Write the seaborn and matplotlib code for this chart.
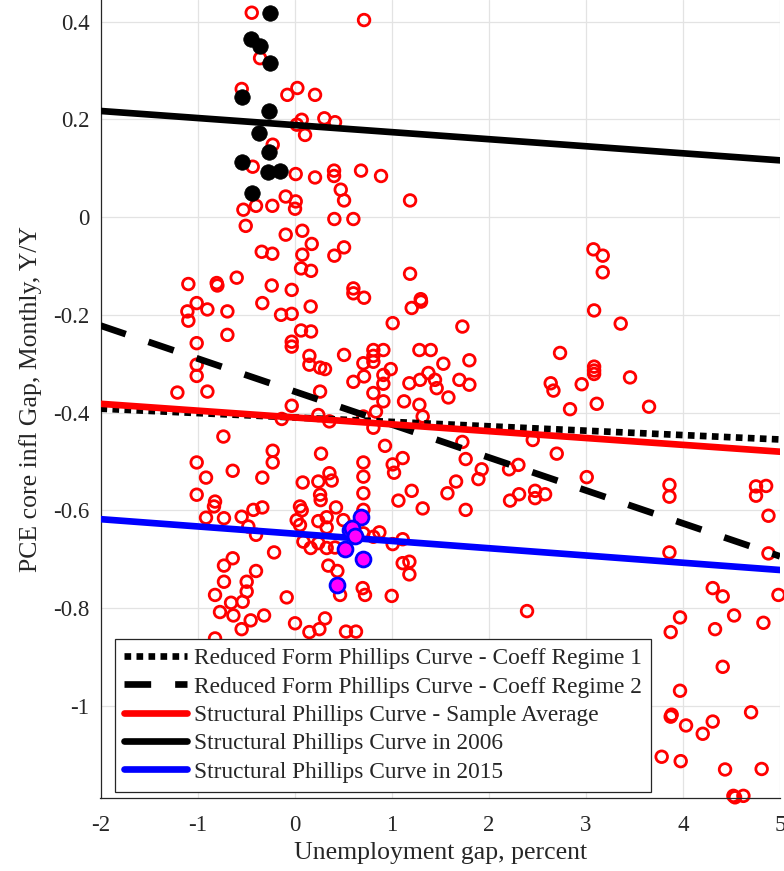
import numpy as np
import pandas as pd
import seaborn as sns
import matplotlib.pyplot as plt

# monthly observations (unemployment gap, core PCE inflation gap)
red_x = [-0.442, 0.715, -0.356, -0.545, -0.075, 0.028, 0.210, 0.073, 0.022, 0.306,
         0.416, 0.107, -0.226, -0.432, 0.011, 0.210, 0.406, 0.406, 0.684, 0.890,
         0.475, 0.509, -0.092, 0.011, 0.004, -0.528, -0.398, -0.230, 1.189, -0.504,
         0.409, 0.605, -0.092, 0.079, 0.176, 0.509, 0.409, -0.339, -0.230, 0.079,
         0.066, 0.169, 1.189, -1.095, -0.803, -0.796, -0.597, -0.236, -0.030, 0.605,
         0.605, 0.715, 1.299,
         -1.009, -1.105, -1.095, -0.899, -0.693, -0.333, -0.140, -0.030, 0.165, 1.206,
         1.302, 1.010, 0.066, 0.169, -0.693, -1.009, -0.030, -0.030, 0.152, 0.152,
         0.262, 0.313, 0.509, 0.811, 0.811, 0.914, 0.708, 0.811, 1.285, 1.402,
         -1.009, -1.009, -1.208, -0.899, 0.605, 0.715, 0.914, 0.914, 0.990, 1.182,
         1.292, 1.378, 1.446, 1.463, 0.262, 0.811, 0.914, 1.127, 1.285, 1.319,
         -0.030, -0.133, 0.244, 0.358, 0.708, 0.838, 0.811, -0.734, -0.226, -0.226,
         0.272, 0.708, 0.931, 1.010, 1.113, 1.024, -1.009, -0.913, -0.638, -0.333,
         0.083, 0.244, 0.358, 0.382, 0.708, 0.708, 0.262, 0.268, -1.009, -0.820,
         -0.831, -0.425, -0.333, 0.055, 0.073, 0.426, 0.708, 1.206, 1.069, 1.319,
         -0.913, -0.728, -0.546, 0.021, 0.055, 0.244, 0.330, 0.330, 0.502, -0.477,
         -0.398, 0.090, 0.165, 0.244, 0.330, 0.416, 0.708, 0.873, 0.811, 1.010,
         1.113, -0.212, -0.638, -0.728, 0.347, 0.440, 1.113, 1.182, 1.182, -0.398,
         -0.728, -0.494, -0.494, -0.820, -0.082, 0.701, 0.725, 1.000, 0.468,
         -0.655, -0.535, -0.769, -0.631, -0.546, -0.453, -0.315, 0.004, 0.152, 0.255,
         0.313, 0.529, 0.632, -0.820,
         3.078, 3.174, 3.174, 3.085, 3.359, 1.728, 1.532, 1.800, 1.697, 1.800,
         1.584, 2.734, 2.638, 2.666, 2.957, 3.085, 3.085, 3.085, 3.455, 3.112,
         2.837, 3.651, 1.728, 1.762, 2.453, 1.927, 1.893, 1.663, 1.574, 2.209,
         2.305, 2.219, 2.312, 2.477, 2.477, 2.580, 2.700, 3.009, 1.762, 3.861,
         3.861, 3.861, 4.753, 4.857, 4.753, 4.881, 4.881, 4.307, 4.410, 4.984,
         3.970, 3.874, 4.331, 4.527, 4.829, 4.410, 3.970, 3.884, 3.874, 4.032,
         4.204, 4.307, 4.702, 3.781, 3.977, 4.434, 4.811, 4.520, 4.623, 4.537,
         2.394]
red_y = [0.418, 0.403, 0.325, 0.262, 0.250, 0.264, 0.250, 0.199, 0.189, 0.202,
         0.194, 0.168, 0.148, 0.103, 0.088, 0.081, 0.095, 0.084, 0.095, 0.084,
         0.056, 0.034, 0.042, 0.032, 0.017, 0.015, 0.023, 0.023, 0.034, -0.018,
         -0.004, -0.004, -0.036, -0.028, -0.055, -0.062, -0.079, -0.071, -0.075, -0.077,
         -0.105, -0.110, -0.116, -0.137, -0.135, -0.140, -0.124, -0.140, -0.149, -0.146,
         -0.156, -0.165, -0.168,
         -0.176, -0.193, -0.212, -0.189, -0.193, -0.176, -0.200, -0.198, -0.183, -0.186,
         -0.173, -0.217, -0.232, -0.234, -0.241, -0.258, -0.255, -0.265, -0.284, -0.302,
         -0.308, -0.311, -0.282, -0.272, -0.284, -0.272, -0.299, -0.296, -0.272, -0.272,
         -0.302, -0.325, -0.359, -0.357, -0.337, -0.326, -0.323, -0.341, -0.311, -0.340,
         -0.333, -0.319, -0.333, -0.350, -0.357, -0.360, -0.377, -0.377, -0.384, -0.408,
         -0.386, -0.413, -0.405, -0.418, -0.408, -0.398, -0.431, -0.449, -0.478, -0.502,
         -0.484, -0.502, -0.468, -0.506, -0.493, -0.523, -0.502, -0.533, -0.519, -0.533,
         -0.543, -0.541, -0.524, -0.539, -0.531, -0.565, -0.568, -0.579, -0.568, -0.582,
         -0.592, -0.599, -0.594, -0.592, -0.600, -0.594, -0.599, -0.560, -0.580, -0.596,
         -0.615, -0.616, -0.613, -0.620, -0.630, -0.622, -0.614, -0.635, -0.620, -0.633,
         -0.650, -0.664, -0.677, -0.667, -0.677, -0.676, -0.647, -0.645, -0.654, -0.669,
         -0.659, -0.686, -0.698, -0.713, -0.713, -0.724, -0.708, -0.705, -0.731, -0.724,
         -0.746, -0.746, -0.766, -0.773, -0.778, -0.759, -0.773, -0.775, -0.773,
         -0.789, -0.787, -0.808, -0.815, -0.843, -0.825, -0.815, -0.831, -0.849, -0.843,
         -0.821, -0.848, -0.848, -0.862,
         -0.066, -0.079, -0.113, -0.191, -0.218, -0.224, -0.300, -0.293, -0.333, -0.343,
         -0.369, -0.278, -0.340, -0.355, -0.342, -0.306, -0.314, -0.321, -0.328, -0.382,
         -0.393, -0.388, -0.460, -0.495, -0.456, -0.516, -0.536, -0.541, -0.565, -0.516,
         -0.507, -0.580, -0.567, -0.560, -0.575, -0.567, -0.484, -0.532, -0.599, -0.548,
         -0.572, -0.686, -0.551, -0.550, -0.570, -0.611, -0.688, -0.759, -0.776, -0.773,
         -0.819, -0.849, -0.843, -0.815, -0.830, -0.920, -0.969, -1.018, -1.022, -1.040,
         -1.057, -1.032, -1.013, -1.104, -1.113, -1.130, -1.129, -1.184, -1.184, -1.187,
         -0.806]

# 2006 observations (black) and 2015 observations (magenta)
black_x = [-0.253, -0.449, -0.356, -0.253, -0.539, -0.264, -0.363, -0.264, -0.539, -0.271, -0.150, -0.442]
black_y = [0.418, 0.364, 0.349, 0.316, 0.245, 0.216, 0.172, 0.133, 0.112, 0.092, 0.095, 0.049]
mag_x = [0.684, 0.571, 0.595, 0.622, 0.519, 0.708, 0.440]
mag_y = [-0.614, -0.641, -0.636, -0.652, -0.679, -0.699, -0.752]

# fitted curves, evaluated at the ends of the x range
line_x = [-2, 5]
rf_regime1 = [-0.392, -0.455]
rf_regime2 = [-0.222, -0.694]
sp_average = [-0.382, -0.480]
sp_2006 = [0.217, 0.116]
sp_2015 = [-0.618, -0.722]

sns.set_style('white')
plt.rcParams['font.family'] = ['Liberation Serif', 'DejaVu Serif']
plt.rcParams['axes.unicode_minus'] = False

fig = plt.figure(figsize=(7.84, 8.71), dpi=100)
ax = fig.add_axes([100.5 / 784, 72.7 / 871, 679.5 / 784, 798.3 / 871])

sns.scatterplot(x=red_x, y=red_y, ax=ax, marker='o', s=70, facecolors='none',
                edgecolor='#ff0000', linewidth=2.0, zorder=2, clip_on=False)

lw = 4.8
sns.lineplot(x=line_x, y=rf_regime1, ax=ax, color='black', lw=lw, zorder=3,
             label='Reduced Form Phillips Curve - Coeff Regime 1')
sns.lineplot(x=line_x, y=rf_regime2, ax=ax, color='black', lw=lw, zorder=3,
             label='Reduced Form Phillips Curve - Coeff Regime 2')
sns.lineplot(x=line_x, y=sp_average, ax=ax, color='#ff0000', lw=lw, zorder=3,
             label='Structural Phillips Curve - Sample Average')
sns.lineplot(x=line_x, y=sp_2006, ax=ax, color='black', lw=lw, zorder=3,
             label='Structural Phillips Curve in 2006')
sns.lineplot(x=line_x, y=sp_2015, ax=ax, color='#0000ff', lw=lw, zorder=3,
             label='Structural Phillips Curve in 2015')
lines = ax.get_lines()
lines[0].set_dashes((1.0, 0.8))
lines[0].set_dash_capstyle('butt')
lines[1].set_dashes((4.0, 3.6))
lines[1].set_dash_capstyle('butt')

sns.scatterplot(x=black_x, y=black_y, ax=ax, s=125, color='black',
                edgecolor='black', linewidth=0.5, zorder=4, clip_on=False)
sns.scatterplot(x=mag_x, y=mag_y, ax=ax, s=115, color='#ff00ff',
                edgecolor='#0000ff', linewidth=2.0, zorder=4, clip_on=False)

ax.set_xlim(-2, 5)
ax.set_ylim(-1.189, 0.444)
ax.set_xticks(range(-2, 6))
ax.set_yticks([-1, -0.8, -0.6, -0.4, -0.2, 0, 0.2, 0.4])
ax.set_yticklabels(['-1', '-0.8', '-0.6', '-0.4', '-0.2', '0', '0.2', '0.4'])
ax.grid(True, color='#e3e3e3', lw=0.9)
ax.set_axisbelow(True)
for side in ['top', 'right']:
    ax.spines[side].set_visible(False)
for side in ['left', 'bottom']:
    ax.spines[side].set_color('#262626')
    ax.spines[side].set_linewidth(0.9)
ax.tick_params(direction='in', length=5.5, width=0.8, colors='#262626',
               labelsize=16.5, pad=8)
ax.tick_params(axis='x', pad=12)

ax.set_xlabel('Unemployment gap, percent', fontsize=18.5, color='#262626', labelpad=4)
ax.set_ylabel('PCE core infl Gap, Monthly, Y/Y', fontsize=18.5, color='#262626', labelpad=8)

leg = ax.legend(loc='lower left', bbox_to_anchor=(0.0213, 0.0079), borderaxespad=0,
                fontsize=16.8, handlelength=2.7, handletextpad=0.27, labelspacing=0.3,
                borderpad=0.4, fancybox=False, framealpha=1, edgecolor='#262626')
leg.get_frame().set_linewidth(0.9)
leg.set_zorder(10)

fig.savefig('out.png', dpi=100)
